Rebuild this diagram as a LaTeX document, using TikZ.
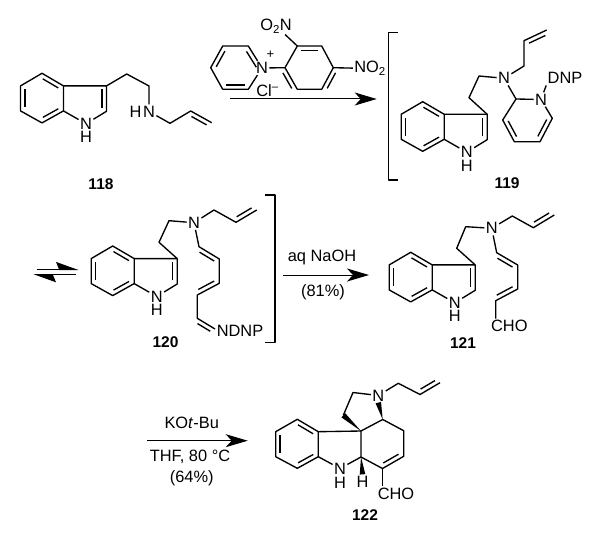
\documentclass[tikz,border=0pt]{standalone}
\usepackage{fontspec}
\setmainfont{Liberation Sans}
\usetikzlibrary{arrows.meta,calc}

\tikzset{
  bond/.style={line width=1.35pt, line join=round},
  atom/.style={inner sep=0pt, outer sep=1.5pt, font=\fontsize{16.4}{18}\selectfont},
  cpd/.style={inner sep=1pt, font=\fontsize{15.5}{18}\selectfont\bfseries},
  rxn/.style={line width=1pt, -{Stealth[length=22pt, width=13pt, inset=6pt]}},
  equil/.style={line width=1pt, -{Stealth[harpoon, length=21pt, width=15pt, inset=3pt]}}
}

% inner line of a double bond, on the left of a->b as seen
\newcommand{\dbl}[2]{\draw[bond] ($(#1)!0.14!(#2)!4.4pt!90:(#2)$) -- ($(#2)!0.14!(#1)!4.4pt!-90:(#1)$);}
% solid wedge, thin at the first point
\newcommand{\wdg}[2]{\fill (#1) -- ($(#2)!2.8pt!90:(#1)$) -- ($(#2)!2.8pt!-90:(#1)$) -- cycle;}

% indole, #1 names its atoms, (#2,#3) is the top of the benzene ring
\newcommand{\indole}[3]{
  \begin{scope}[shift={(#2,#3)}]
    \coordinate (#1a) at (0,0);
    \coordinate (#1b) at (21.5,12.6);
    \coordinate (#1c) at (21.5,37.6);
    \coordinate (#1d) at (0,49.6);
    \coordinate (#1e) at (-21.5,37.6);
    \coordinate (#1f) at (-21.5,12.6);
    \coordinate (#1g) at (64.5,12.6);
    \coordinate (#1k) at (64.5,38);
    \node[atom] (#1n) at (44,50.5) {N};
    \node[atom] (#1h) at (44,64) {H};
  \end{scope}
  \draw[bond] (#1a) -- (#1b) -- (#1c) -- (#1d) -- (#1e) -- (#1f) -- cycle;
  \draw[bond] (#1b) -- (#1g) -- (#1k) -- (#1n) -- (#1c);
  \dbl{#1b}{#1a} \dbl{#1d}{#1c} \dbl{#1f}{#1e}
  \dbl{#1k}{#1g}
}

\begin{document}
\begin{tikzpicture}[x=1pt, y=-1pt]
\useasboundingbox (0,0) rectangle (601,540);

% 118
\indole{p}{42}{73.3}
\coordinate (p1) at (126.7,74);
\coordinate (p2) at (149,86);
\node[atom] (pN) at (149,111.5) {N};
\node[atom, anchor=east, outer sep=0pt] (pH) at (pN.west) {H};
\coordinate (p3) at (170,123.3);
\coordinate (p4) at (190.7,111);
\coordinate (p5) at (211.7,122.7);
\draw[bond] (pg) -- (p1) -- (p2) -- (pN) -- (p3) -- (p4) -- (p5);
\dbl{p5}{p4}
\node[cpd] (l118) at (101,184) {118};

% Pyridiniumsalz
\coordinate (q1) at (210.7,67.7);
\coordinate (q2) at (222.7,46);
\coordinate (q3) at (248.3,46);
\node[atom] (qN) at (262,68) {N};
\coordinate (q5) at (248.3,89.3);
\coordinate (q6) at (222.7,89.3);
\node[inner sep=0pt, font=\fontsize{13}{14}\selectfont] (qP) at (270.5,55) {+};
\node[atom] (qCl) at (267.5,90.5) {Cl\textsuperscript{--}};
\draw[bond] (q6) -- (q1) -- (q2) -- (q3) -- (qN) -- (q5) -- (q6);
\dbl{q2}{q1} \dbl{q6}{q5} \dbl{qN}{q3}
\coordinate (r1) at (285,67.7);
\coordinate (r2) at (297.3,46);
\coordinate (r3) at (321.7,46);
\coordinate (r4) at (333.3,67.7);
\coordinate (r5) at (321.7,89.3);
\coordinate (r6) at (297.3,89.3);
\node[atom] (rA) at (276,26) {O\textsubscript{2}N};
\node[atom] (rB) at (370,68.5) {NO\textsubscript{2}};
\draw[bond] (r1) -- (r2) -- (r3) -- (r4) -- (r5) -- (r6) -- cycle;
\draw[bond] (qN) -- (r1);
\draw[bond] (r2) -- (rA);
\draw[bond] (r4) -- (rB);
\dbl{r3}{r2} \dbl{r4}{r5} \dbl{r6}{r1}

% Pfeil 118 -> 119
\coordinate (a1) at (229.7,99);
\coordinate (a2) at (376.7,99);
\draw[rxn] (a1) -- (a2);

% 119
\draw[bond] (398,32.3) -- (388.7,32.3) -- (388.7,180) -- (398,180);
\indole{s}{422.7}{101.7}
\coordinate (s1) at (469,97.7);
\coordinate (s2) at (479,76);
\node[atom] (sN) at (504,78.3) {N};
\coordinate (s3) at (524,66);
\coordinate (s4) at (524,40.7);
\coordinate (s5) at (546.7,30);
\coordinate (t1) at (516,99);
\node[atom] (tN) at (541,99.5) {N};
\coordinate (t3) at (552.3,118.3);
\coordinate (t4) at (540,141.7);
\coordinate (t5) at (514.3,141.7);
\coordinate (t6) at (502.7,120);
\node[atom] (tD) at (565,78.3) {DNP};
\draw[bond] (sg) -- (s1) -- (s2) -- (sN) -- (s3) -- (s4) -- (s5);
\dbl{s5}{s4}
\draw[bond] (sN) -- (t1) -- (tN) -- (t3) -- (t4) -- (t5) -- (t6) -- (t1);
\draw[bond] (tN) -- (tD.south west);
\dbl{t4}{t3} \dbl{t6}{t5}
\node[cpd] (l119) at (507,183) {119};

% Gleichgewicht
\coordinate (e1) at (36.7,269.5);
\coordinate (e2) at (78.5,269.5);
\coordinate (e3) at (75.7,274.7);
\coordinate (e4) at (33.5,274.7);
\draw[equil] (e1) -- (e2);
\draw[equil] (e3) -- (e4);

% 120
\indole{u}{112.7}{246}
\coordinate (u1) at (159,242.3);
\coordinate (u2) at (169,220.7);
\node[atom] (uN) at (194,222.7) {N};
\coordinate (u3) at (214,210);
\coordinate (u4) at (236,222.3);
\coordinate (u5) at (256.7,210);
\coordinate (v1) at (199,246.7);
\coordinate (v2) at (219.3,259);
\coordinate (v3) at (219.3,283.3);
\coordinate (v4) at (197.3,295);
\coordinate (v5) at (197.3,318.3);
\coordinate (v6) at (215,329);
\node[atom] (uD) at (240,330.7) {NDNP};
\draw[bond] (ug) -- (u1) -- (u2) -- (uN) -- (u3) -- (u4) -- (u5);
\dbl{u4}{u5}
\draw[bond] (uN) -- (v1) -- (v2) -- (v3) -- (v4) -- (v5) -- (v6);
\dbl{v2}{v1} \dbl{v4}{v3} \dbl{v6}{v5}
\node[cpd] (l120) at (165.5,342) {120};
\draw[bond] (265,195) -- (275,195) -- (275,342.7) -- (265,342.7);

% Pfeil 120 -> 121
\coordinate (a3) at (283.3,275);
\coordinate (a4) at (369,275);
\draw[rxn] (a3) -- (a4);
\node[atom] (aq) at (322,257) {aq NaOH};
\node[atom] (y81) at (323,292.5) {(81\%)};

% 121
\indole{w}{410.7}{252.3}
\coordinate (w1) at (456.7,248.3);
\coordinate (w2) at (465.7,226.7);
\node[atom] (wN) at (491.7,228.3) {N};
\coordinate (w3) at (512.3,216);
\coordinate (w4) at (533.3,227.7);
\coordinate (w5) at (554.3,215);
\coordinate (z1) at (496.7,252.7);
\coordinate (z2) at (517.7,265);
\coordinate (z3) at (517.7,289);
\coordinate (z4) at (495.7,300.7);
\node[atom] (zC) at (509.3,326) {CHO};
\draw[bond] (wg) -- (w1) -- (w2) -- (wN) -- (w3) -- (w4) -- (w5);
\dbl{w4}{w5}
\draw[bond] (wN) -- (z1) -- (z2) -- (z3) -- (z4) -- (z4 |- zC.north);
\dbl{z2}{z1} \dbl{z4}{z3}
\node[cpd] (l121) at (463,343) {121};

% Pfeil 121 -> 122
\coordinate (a5) at (147.3,440.7);
\coordinate (a6) at (247.7,440.7);
\draw[rxn] (a5) -- (a6);
\node[atom] (kot) at (191.7,423.3) {KO\textit{t}-Bu};
\node[atom] (thf) at (190,456.7) {THF, 80 °C};
\node[atom] (y64) at (191.7,478) {(64\%)};

% 122
\coordinate (b1) at (297.3,419.3);
\coordinate (b2) at (318.3,431.7);
\coordinate (b3) at (318.3,456.7);
\coordinate (b4) at (297.3,468.3);
\coordinate (b5) at (275.7,456.7);
\coordinate (b6) at (275.7,431.7);
\coordinate (c1) at (361,431);
\coordinate (c2) at (361,457);
\node[atom] (cN) at (340,468.5) {N};
\node[atom] (cH) at (340,483) {H};
\node[atom] (cJ) at (362.5,481.5) {H};
\coordinate (c5) at (382.5,468.5);
\coordinate (c6) at (403.7,456.3);
\coordinate (c7) at (403.7,430.7);
\coordinate (c8) at (382.7,419.5);
\node[atom] (dN) at (378.3,395.5) {N};
\coordinate (d1) at (343.3,415.3);
\coordinate (d2) at (353,392.5);
\coordinate (d3) at (398.3,383.3);
\coordinate (d4) at (420,394.5);
\coordinate (d5) at (440,382.7);
\node[atom] (dC) at (396,493.5) {CHO};
\draw[bond] (b1) -- (b2) -- (b3) -- (b4) -- (b5) -- (b6) -- cycle;
\dbl{b2}{b1} \dbl{b4}{b3} \dbl{b6}{b5}
\draw[bond] (b2) -- (c1) -- (c2) -- (cN) -- (b3);
\draw[bond] (c2) -- (c5) -- (c6) -- (c7) -- (c8) -- (c1);
\dbl{c5}{c6}
\draw[bond] (c5) -- (c5 |- dC.north);
\draw[bond] (d1) -- (d2) -- (dN) -- (d3) -- (d4) -- (d5);
\dbl{d4}{d5}
\wdg{c1}{d1}
\wdg{c8}{dN.south}
\wdg{c2}{cJ.north}
\node[cpd] (l122) at (365,515) {122};
\end{tikzpicture}
\end{document}
